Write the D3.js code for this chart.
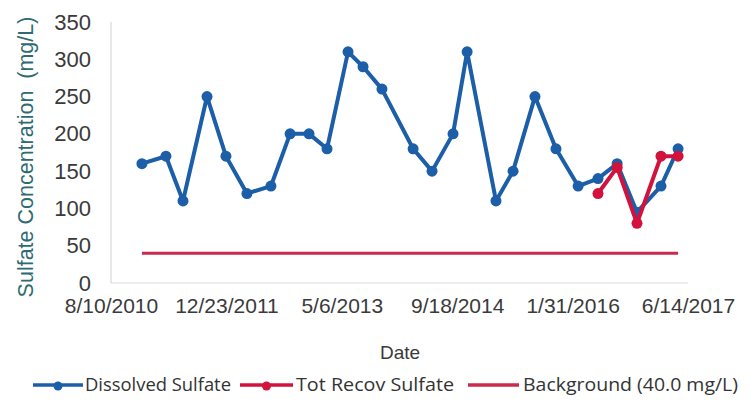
<!DOCTYPE html>
<html>
<head>
<meta charset="utf-8">
<script src="https://cdn.jsdelivr.net/npm/d3@7"></script>
<style>
  html, body { margin: 0; padding: 0; background: #fff; }
  svg { display: block; }
</style>
</head>
<body>
<svg id="chart" width="753" height="403"></svg>
<script>
// ---- data ----
const dissolvedDates = ["2010-12-22","2011-04-05","2011-06-18","2011-09-30","2011-12-21","2012-03-21","2012-07-03","2012-09-24","2012-12-15","2013-03-03","2013-06-02","2013-08-06","2013-10-27","2014-03-11","2014-06-01","2014-08-31","2014-10-31","2015-03-05","2015-05-18","2015-08-21","2015-11-20","2016-02-24","2016-05-20","2016-08-11","2016-11-05","2017-02-17","2017-05-02"];
const dissolvedValues = [160,170,110,250,170,120,130,200,200,180,310,290,260,180,150,200,310,110,150,250,180,130,140,160,95,130,180];
const totRecovDates = ["2016-05-20","2016-08-11","2016-11-05","2017-02-17","2017-05-02"];
const totRecovValues = [120,155,80,170,170];
const backgroundDates = ["2010-12-22","2017-05-02"];
const backgroundValues = [40,40];
const xTickLabels = ["8/10/2010","12/23/2011","5/6/2013","9/18/2014","1/31/2016","6/14/2017"];
const yTicks = [0,50,100,150,200,250,300,350];
const legendLabels = ["Dissolved Sulfate","Tot Recov Sulfate","Background (40.0 mg/L)"];

(function () {
const parse = d3.timeParse("%Y-%m-%d");
const parseTick = d3.timeParse("%m/%d/%Y");

const svg = d3.select("#chart");
const pL = 111, pR = 688, pT = 22, pB = 283;

const x = d3.scaleTime()
  .domain([parseTick(xTickLabels[0]), parseTick(xTickLabels[xTickLabels.length-1])])
  .range([pL, pR]);
const y = d3.scaleLinear().domain([0,350]).range([pB, pT]);

// axes lines
svg.append("line").attr("x1", pL).attr("x2", pL).attr("y1", pT).attr("y2", pB)
  .attr("stroke", "#d9d9d9").attr("stroke-width", 1.2);
svg.append("line").attr("x1", pL).attr("x2", pR).attr("y1", pB).attr("y2", pB)
  .attr("stroke", "#d9d9d9").attr("stroke-width", 1.2);

// y axis labels
const yAxis = d3.axisLeft(y).tickValues(yTicks).tickSize(0).tickPadding(20);
const gy = svg.append("g").attr("transform", `translate(${pL},0)`).call(yAxis);
gy.select(".domain").remove();
gy.selectAll("text").attr("font-family", "Liberation Sans, Arial, sans-serif")
  .attr("font-size", 22).attr("fill", "#3a3a3a");

// x axis labels
const xAxis = d3.axisBottom(x).tickValues(xTickLabels.map(parseTick))
  .tickFormat((d,i) => xTickLabels[i]).tickSize(0).tickPadding(15);
const gx = svg.append("g").attr("transform", `translate(0,${pB})`).call(xAxis);
gx.select(".domain").remove();
gx.selectAll("text").attr("font-family", "Liberation Sans, Arial, sans-serif")
  .attr("font-size", 21).attr("fill", "#3a3a3a");

// axis titles
svg.append("text").attr("transform", "translate(33,157) rotate(-90)")
  .attr("text-anchor", "middle").attr("font-family", "Liberation Sans, Arial, sans-serif")
  .attr("font-size", 21.5).attr("fill", "#2e6a72")
  .attr("xml:space", "preserve")
  .text("Sulfate Concentration  (mg/L)");
svg.append("text").attr("x", 400).attr("y", 359).attr("text-anchor", "middle")
  .attr("font-family", "Liberation Sans, Arial, sans-serif").attr("font-size", 19)
  .attr("fill", "#3a3a3a").text("Date");

const line = d3.line().x(d => x(d.date)).y(d => y(d.value));
const mk = (dates, vals) => dates.map((d,i) => ({date: parse(d), value: vals[i]}));

const bg = mk(backgroundDates, backgroundValues);
const dis = mk(dissolvedDates, dissolvedValues);
const tot = mk(totRecovDates, totRecovValues);

const blue = "#1c5ea8", red = "#d2123d", bgc = "#c92a4e";

svg.append("path").datum(bg).attr("d", line).attr("fill", "none")
  .attr("stroke", bgc).attr("stroke-width", 3);

svg.append("path").datum(dis).attr("d", line).attr("fill", "none")
  .attr("stroke", blue).attr("stroke-width", 4).attr("stroke-linejoin", "round");
svg.append("g").selectAll("circle").data(dis).join("circle")
  .attr("cx", d => x(d.date)).attr("cy", d => y(d.value)).attr("r", 5.5).attr("fill", blue);

svg.append("path").datum(tot).attr("d", line).attr("fill", "none")
  .attr("stroke", red).attr("stroke-width", 4).attr("stroke-linejoin", "round");
svg.append("g").selectAll("circle").data(tot).join("circle")
  .attr("cx", d => x(d.date)).attr("cy", d => y(d.value)).attr("r", 5.5).attr("fill", red);

// legend
const legendY = 385;
const items = [
  {label: legendLabels[0], color: blue, marker: true, x1: 33, x2: 83, tx: 85, w: 146},
  {label: legendLabels[1], color: red, marker: true, x1: 240, x2: 293, tx: 296, w: 158},
  {label: legendLabels[2], color: bgc, marker: false, x1: 468, x2: 519, tx: 523, w: 215}
];
const lg = svg.append("g");
items.forEach(it => {
  lg.append("line").attr("x1", it.x1).attr("x2", it.x2).attr("y1", legendY).attr("y2", legendY)
    .attr("stroke", it.color).attr("stroke-width", 3.5);
  if (it.marker) lg.append("circle").attr("cx", (it.x1+it.x2)/2).attr("cy", legendY+1).attr("r", 4.5).attr("fill", it.color);
  lg.append("text").attr("x", it.tx).attr("y", legendY + 6)
    .attr("font-family", "Open Sans, sans-serif").attr("font-size", 18).attr("fill", "#333")
    .attr("textLength", it.w).attr("lengthAdjust", "spacingAndGlyphs")
    .text(it.label);
});
})();
</script>
</body>
</html>
